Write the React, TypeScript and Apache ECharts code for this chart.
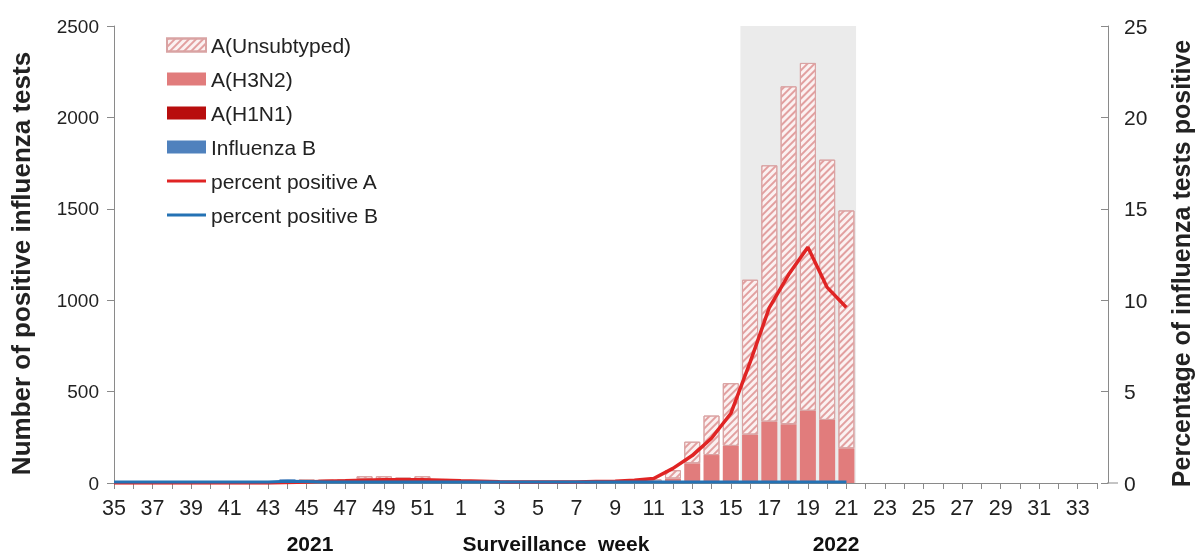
import React, { useEffect, useRef } from 'react';
import * as echarts from 'echarts';

// Surveillance weeks 2021 w35 .. 2022 w34
const weeks = [
  '35', '36', '37', '38', '39', '40', '41', '42', '43', '44', '45', '46', '47', '48', '49', '50', '51', '52',
  '1', '2', '3', '4', '5', '6', '7', '8', '9', '10', '11', '12', '13', '14', '15', '16', '17', '18', '19', '20', '21',
  '22', '23', '24', '25', '26', '27', '28', '29', '30', '31', '32', '33', '34',
];

const influenzaB = [
  0, 0, 0, 0, 0, 0, 0, 0, 0, 20, 8, 4, 5, 4, 3, 4, 3, 2,
  2, 1, 0, 0, 0, 0, 0, 0, 0, 0, 0, 0, 0, 0, 0, 0, 0, 0, 0, 0, 0,
  null, null, null, null, null, null, null, null, null, null, null, null, null,
];
const h1n1 = [
  0, 0, 0, 0, 0, 0, 0, 0, 0, 0, 0, 0, 0, 3, 4, 5, 3, 2,
  0, 0, 0, 0, 0, 0, 0, 0, 0, 0, 0, 0, 0, 0, 0, 0, 0, 0, 0, 0, 0,
  null, null, null, null, null, null, null, null, null, null, null, null, null,
];
const h3n2 = [
  0, 0, 0, 0, 0, 0, 0, 0, 0, 0, 4, 8, 10, 14, 12, 14, 12, 10,
  8, 5, 2, 0, 0, 0, 1, 2, 3, 5, 8, 25, 108, 153, 203, 265, 336, 322, 395, 345, 190,
  null, null, null, null, null, null, null, null, null, null, null, null, null,
];
const unsubtyped = [
  0, 0, 0, 0, 0, 0, 0, 0, 0, 0, 8, 6, 3, 16, 18, 7, 19, 8,
  5, 6, 3, 0, 0, 0, 1, 2, 5, 7, 12, 45, 118, 216, 343, 847, 1402, 1848, 1903, 1424, 1301,
  null, null, null, null, null, null, null, null, null, null, null, null, null,
];
const pctPositiveA = [
  0, 0, 0, 0, 0, 0, 0, 0, 0, 0.03, 0.06, 0.1, 0.12, 0.15, 0.18, 0.18, 0.18, 0.15,
  0.12, 0.1, 0.07, 0.05, 0.05, 0.05, 0.05, 0.08, 0.1, 0.15, 0.25, 0.8, 1.5, 2.45, 3.8, 6.6, 9.6, 11.4, 12.9, 10.7, 9.6,
  null, null, null, null, null, null, null, null, null, null, null, null, null,
];
const pctPositiveB = [
  0.05, 0.05, 0.05, 0.05, 0.05, 0.05, 0.05, 0.05, 0.05, 0.1, 0.08, 0.06, 0.06, 0.05, 0.05, 0.05, 0.05, 0.05,
  0.05, 0.05, 0.05, 0.05, 0.05, 0.05, 0.05, 0.05, 0.05, 0.05, 0.05, 0.05, 0.05, 0.05, 0.05, 0.05, 0.05, 0.05, 0.05, 0.05, 0.05,
  null, null, null, null, null, null, null, null, null, null, null, null, null,
];

const countAxis = { min: 0, max: 2500, interval: 500 };
const pctAxis = { min: 0, max: 25, interval: 5 };
const shadedWeeks = ['16', '21'];
const yearLabels = ['2021', '2022'];
const xTitle = 'Surveillance  week';

export default function App() {
  const ref = useRef<HTMLDivElement>(null);

  useEffect(() => {
    const chart = echarts.init(ref.current as HTMLDivElement, null, { renderer: 'svg' });
    const font = "'Liberation Sans', Arial, sans-serif";
    const nz = (arr: (number | null)[]) => arr.map((v) => (v === 0 ? null : v));
    const pairs = (arr: (number | null)[]) => arr.map((v, i) => [i, v]);
    const s0 = weeks.indexOf(shadedWeeks[0]);
    const s1 = weeks.indexOf(shadedWeeks[1]);
    const axisGray = '#8a8a8a';
    const textColor = '#222';
    const gridLeft = 113;
    const gridRight = 94;
    const rightAxisOffset = 11;
    const gridBottom = 71;

    const lineIcon = 'path://M0,0H40V3H0Z';

    const option: any = {
      animation: false,
      textStyle: { fontFamily: font },
      grid: { left: gridLeft, right: gridRight, top: 26, bottom: gridBottom },
      legend: {
        orient: 'vertical',
        left: 166,
        top: 34,
        padding: 0,
        itemWidth: 39,
        itemHeight: 13,
        itemGap: 12,
        textStyle: { fontSize: 21, color: textColor, fontFamily: font, lineHeight: 22 },
        data: [
          { name: 'A(Unsubtyped)', icon: 'rect' },
          { name: 'A(H3N2)', icon: 'rect' },
          { name: 'A(H1N1)', icon: 'rect' },
          { name: 'Influenza B', icon: 'rect' },
          { name: 'percent positive A', icon: lineIcon },
          { name: 'percent positive B', icon: lineIcon },
        ],
      },
      xAxis: [
        {
          type: 'category',
          data: weeks,
          boundaryGap: false,
          axisLine: { show: true, lineStyle: { color: axisGray, width: 1 } },
          axisTick: { show: true, interval: 0, length: 6, lineStyle: { color: axisGray } },
          splitLine: { show: false },
          axisLabel: { interval: 1, fontSize: 21.5, color: textColor, margin: 14 },
        },
        {
          type: 'value',
          min: 0,
          max: weeks.length - 1,
          show: false,
          splitLine: { show: false },
        },
      ],
      yAxis: [
        {
          type: 'value',
          ...countAxis,
          position: 'left',
          name: 'Number of positive influenza tests',
          nameLocation: 'middle',
          nameGap: 80,
          nameTextStyle: { fontSize: 26, fontWeight: 'bold', color: textColor, padding: [0, 18, 0, 0] },
          axisLine: { show: true, lineStyle: { color: axisGray } },
          axisTick: { show: true, length: 7, lineStyle: { color: axisGray } },
          splitLine: { show: false },
          axisLabel: { fontSize: 19, color: textColor, margin: 15, formatter: (v: number) => String(v) },
        },
        {
          type: 'value',
          ...pctAxis,
          position: 'right',
          offset: rightAxisOffset,
          name: 'Percentage of influenza tests positive',
          nameLocation: 'middle',
          nameGap: 60,
          nameTextStyle: { fontSize: 25, fontWeight: 'bold', color: textColor, padding: [0, 18, 0, 0] },
          axisLine: { show: true, lineStyle: { color: axisGray } },
          axisTick: { show: true, inside: true, length: 7, lineStyle: { color: axisGray } },
          splitLine: { show: false },
          axisLabel: { fontSize: 21, color: textColor, margin: 16 },
        },
      ],
      series: [
        {
          name: 'Influenza B',
          type: 'bar',
          stack: 'flu',
          barWidth: 16,
          data: nz(influenzaB),
          itemStyle: { color: '#4f81bd' },
        },
        {
          name: 'A(H1N1)',
          type: 'bar',
          stack: 'flu',
          barWidth: 16,
          data: nz(h1n1),
          itemStyle: { color: '#b80d0d' },
        },
        {
          name: 'A(H3N2)',
          type: 'bar',
          stack: 'flu',
          barWidth: 16,
          data: nz(h3n2),
          itemStyle: { color: '#e17c7c' },
        },
        {
          name: 'A(Unsubtyped)',
          type: 'bar',
          stack: 'flu',
          barWidth: 16,
          data: nz(unsubtyped),
          itemStyle: {
            color: '#fbf1f1',
            borderColor: '#d9a3a3',
            borderWidth: 1,
            decal: {
              symbol: 'rect',
              symbolSize: 1,
              color: '#e2a0a0',
              dashArrayX: [1, 0],
              dashArrayY: [1.5, 2.5],
              rotation: -Math.PI / 4,
            },
          },
        },
        {
          name: 'percent positive A',
          type: 'line',
          xAxisIndex: 1,
          yAxisIndex: 1,
          symbol: 'none',
          data: pairs(pctPositiveA),
          lineStyle: { color: '#e02424', width: 3.5 },
          itemStyle: { color: '#e02424' },
          z: 5,
          markArea: {
            silent: true,
            z: 0,
            itemStyle: { color: '#ebebeb' },
            data: [[{ xAxis: s0 - 0.5 }, { xAxis: s1 + 0.5 }]],
          },
        },
        {
          name: 'percent positive B',
          type: 'line',
          xAxisIndex: 1,
          yAxisIndex: 1,
          symbol: 'none',
          data: pairs(pctPositiveB),
          lineStyle: { color: '#2472b4', width: 3 },
          itemStyle: { color: '#2472b4' },
          z: 6,
        },
      ],
      graphic: [
        {
          type: 'line',
          shape: { x1: 1201 - gridRight, y1: 554 - gridBottom, x2: 1201 - gridRight + rightAxisOffset, y2: 554 - gridBottom },
          style: { stroke: axisGray, lineWidth: 1 },
          z: 1,
        },
        {
          type: 'text',
          x: 310,
          y: 543,
          style: { text: yearLabels[0], font: `bold 21px ${font}`, textAlign: 'center', textVerticalAlign: 'middle', fill: '#111' },
        },
        {
          type: 'text',
          x: 556,
          y: 543,
          style: { text: xTitle, font: `bold 21px ${font}`, textAlign: 'center', textVerticalAlign: 'middle', fill: '#111' },
        },
        {
          type: 'text',
          x: 836,
          y: 543,
          style: { text: yearLabels[1], font: `bold 21px ${font}`, textAlign: 'center', textVerticalAlign: 'middle', fill: '#111' },
        },
      ],
    };

    chart.setOption(option);
    return () => chart.dispose();
  }, []);

  return <div ref={ref} style={{ position: 'fixed', left: 0, top: 0, width: 1201, height: 554 }} />;
}
